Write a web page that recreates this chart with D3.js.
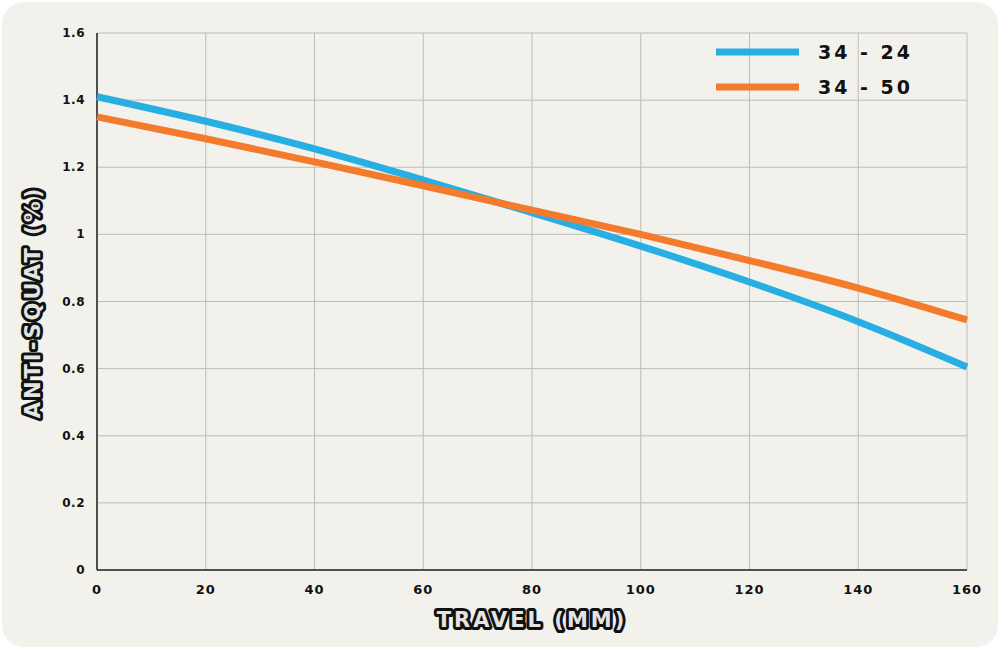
<!DOCTYPE html>
<html><head><meta charset="utf-8">
<script src="https://cdn.jsdelivr.net/npm/d3@7"></script>
<style>
body{margin:0;background:#fff;}
svg{display:block;}
</style></head><body>
<svg id="c" width="1000" height="649"></svg>
<script>
const travel = [0,20,40,60,80,100,120,140,160];
const s1 = [1.41,1.337,1.255,1.162,1.065,0.965,0.858,0.74,0.605];
const s2 = [1.35,1.285,1.216,1.145,1.072,1.0,0.922,0.84,0.745];
const seriesNames = ["34 - 24","34 - 50"];
const colors = ["#27aee3","#f47a2c"];
const xTicks = [0,20,40,60,80,100,120,140,160];
const yTicks = [0,0.2,0.4,0.6,0.8,1,1.2,1.4,1.6];

const svg = d3.select("#c");
svg.append("rect").attr("x",2).attr("y",2).attr("width",996).attr("height",645).attr("rx",22).attr("fill","#f3f1ec");
const L=97,R=967,T=33,B=570;
const x=d3.scaleLinear().domain([0,160]).range([L,R]);
const y=d3.scaleLinear().domain([0,1.6]).range([B,T]);
const font="'DejaVu Sans', sans-serif";
const g=svg.append("g");
g.selectAll(".gx").data(xTicks).join("line").attr("x1",d=>x(d)).attr("x2",d=>x(d)).attr("y1",T).attr("y2",B).attr("stroke","#bdbcb8").attr("stroke-width",1);
g.selectAll(".gy").data(yTicks).join("line").attr("y1",d=>y(d)).attr("y2",d=>y(d)).attr("x1",L).attr("x2",R).attr("stroke","#bdbcb8").attr("stroke-width",1);
g.append("line").attr("x1",L).attr("x2",L).attr("y1",T).attr("y2",B).attr("stroke","#222").attr("stroke-width",1.5);
g.append("line").attr("x1",L).attr("x2",R).attr("y1",B).attr("y2",B).attr("stroke","#222").attr("stroke-width",1.5);

g.selectAll(".xl").data(xTicks).join("text").attr("x",d=>x(d)).attr("y",B+24).attr("text-anchor","middle")
 .attr("font-family",font).attr("font-weight","900").attr("font-size",13).attr("letter-spacing",1).attr("fill","#111").text(d=>d);
g.selectAll(".yl").data(yTicks).join("text").attr("x",L-12).attr("y",d=>y(d)+4).attr("text-anchor","end")
 .attr("font-family",font).attr("font-weight","900").attr("font-size",12).attr("letter-spacing",0.5).attr("fill","#111").text(d=>d);

const line=d3.line().x((d,i)=>x(travel[i])).y(d=>y(d)).curve(d3.curveMonotoneX);
[s1,s2].forEach((s,i)=>{
 g.append("path").attr("d",line(s)).attr("fill","none").attr("stroke",colors[i]).attr("stroke-width",7);
});
seriesNames.forEach((n,i)=>{
 const yy=52+i*35;
 g.append("line").attr("x1",716).attr("x2",799).attr("y1",yy).attr("y2",yy).attr("stroke",colors[i]).attr("stroke-width",7);
 g.append("text").attr("x",818).attr("y",yy+7).attr("font-family",font).attr("font-weight","900").attr("font-size",19)
  .attr("letter-spacing",3).attr("fill","#111").text(n);
});
function title(t,xx,yy,rot){
 g.append("text").attr("transform",`translate(${xx},${yy}) rotate(${rot})`).attr("text-anchor","middle")
  .attr("font-family",font).attr("font-weight","900").attr("font-size",21).attr("letter-spacing",3)
  .attr("fill","#e4e4e4").attr("stroke","#111").attr("stroke-width",6).attr("stroke-linejoin","round")
  .attr("paint-order","stroke").text(t);
}
title("TRAVEL (MM)",532,627,0);
title("ANTI-SQUAT (%)",40,302,-90);
</script></body></html>
